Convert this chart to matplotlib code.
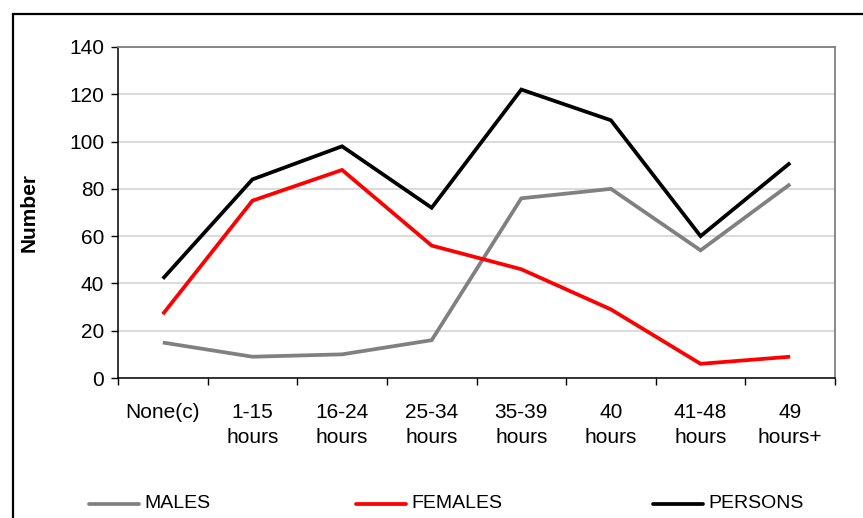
import matplotlib
matplotlib.use("Agg")
import matplotlib.pyplot as plt
from matplotlib.patches import Rectangle
from matplotlib.lines import Line2D

categories = ["None(c)", "1-15\nhours", "16-24\nhours", "25-34\nhours",
              "35-39\nhours", "40\nhours", "41-48\nhours", "49\nhours+"]
males = [15, 9, 10, 16, 76, 80, 54, 82]
females = [27, 75, 88, 56, 46, 29, 6, 9]
persons = [42, 84, 98, 72, 122, 109, 60, 91]
yticks = [0, 20, 40, 60, 80, 100, 120, 140]
series_names = ['MALES', 'FEMALES', 'PERSONS']
series_colors = ['#808080', '#ff0000', '#000000']

plt.rcParams['font.family'] = ['Liberation Sans', 'DejaVu Sans']

W, H = 863, 518
FS = 15
LW = 2.7
fig = plt.figure(figsize=(W/100, H/100), dpi=100)
ax = fig.add_axes([118/W, 1-378/H, (835-118)/W, (378-47)/H])

x = list(range(len(categories)))
for vals, c, lab in zip([males, females, persons], series_colors, series_names):
    ax.plot(x, vals, color=c, lw=LW, solid_joinstyle='miter', solid_capstyle='butt', label=lab)

ax.set_xlim(-0.5, len(categories)-0.5)
ax.set_ylim(0, 140)
ax.set_yticks(yticks)
ax.set_yticklabels([str(v) for v in yticks], fontsize=FS)
ax.yaxis.grid(True, color='#d4d4d4', lw=1.2)
ax.set_axisbelow(True)

ax.set_xticks([i + 0.5 for i in range(-1, len(categories))])
ax.set_xticklabels([])
ax.set_xticks(x, minor=True)
ax.set_xticklabels(categories, minor=True, fontsize=FS, linespacing=1.42)
ax.tick_params(axis='x', which='minor', length=0, pad=18)
ax.tick_params(axis='x', which='major', length=5, direction='out', width=1)
ax.tick_params(axis='y', length=5, direction='out', width=1, pad=5)

for s in ['top', 'right']:
    ax.spines[s].set_color('#808080')
    ax.spines[s].set_linewidth(1.3)
for s in ['left', 'bottom']:
    ax.spines[s].set_color('#000000')
    ax.spines[s].set_linewidth(1.1)

fig.text(29/W, 1-212/H, 'Number', rotation=90, fontsize=FS, fontweight='bold',
         ha='center', va='center')

# legend entries
xs = [89, 356, 653]
yl = 1 - 504/H
for xp, c, lab in zip(xs, series_colors, series_names):
    fig.add_artist(Line2D([xp/W, (xp+50)/W], [yl, yl], color=c, lw=LW, solid_capstyle='round'))
    fig.text((xp+55)/W, yl, lab, fontsize=14, ha='left', va='center')

# outer border
fig.add_artist(Rectangle((13/W, -0.05), 1.0, 1-14/H+0.05, transform=fig.transFigure,
                         fill=False, edgecolor='black', lw=1.6))

fig.savefig('out.png', dpi=100)
